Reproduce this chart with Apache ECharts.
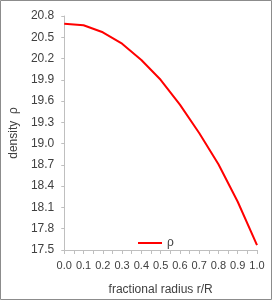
<!DOCTYPE html>
<html><head><meta charset="utf-8">
<script src="https://cdn.jsdelivr.net/npm/echarts@6/dist/echarts.min.js"></script>
<style>html,body{margin:0;padding:0;background:#fff}#c{width:273px;height:301px}</style>
</head><body><div id="c"></div>
<script>
const radius = [0.0,0.1,0.2,0.3,0.4,0.5,0.6,0.7,0.8,0.9,1.0];
const density = [20.69,20.67,20.57,20.41,20.18,19.90,19.55,19.15,18.71,18.18,17.57];
const seriesName = 'ρ';
const font = 'Liberation Sans, Arial, sans-serif';
const txt = '#404040';
const chart = echarts.init(document.getElementById('c'));
chart.setOption({
  animation:false,
  graphic:[{type:'rect',shape:{x:0.5,y:0.5,width:271,height:299},style:{fill:'none',stroke:'#8c8c8c',lineWidth:1}}],
  grid:{left:59,right:16,top:16,bottom:49},
  legend:{left:133,top:232,itemWidth:24,itemHeight:12,itemGap:3,icon:'path://M0,5L24,5L24,7L0,7Z',
    textStyle:{fontFamily:font,fontSize:12,color:txt},data:[seriesName]},
  xAxis:{type:'value',min:0,max:1,interval:0.1,
    name:'fractional radius r/R',nameLocation:'middle',nameGap:34,
    nameTextStyle:{fontFamily:font,fontSize:12,color:txt},
    axisLine:{lineStyle:{color:'#bfbfbf'}},
    axisTick:{show:true,length:4,lineStyle:{color:'#bfbfbf'}},
    minorTick:{show:true,splitNumber:2,length:4,lineStyle:{color:'#bfbfbf'}},
    splitLine:{show:false},
    axisLabel:{fontFamily:font,fontSize:11,color:txt,margin:10,formatter:v=>v.toFixed(1)}},
  yAxis:{type:'value',min:17.5,max:20.8,interval:0.3,
    name:'density  ρ',nameLocation:'middle',nameGap:42,
    nameTextStyle:{fontFamily:font,fontSize:12,color:txt},
    axisLine:{show:true,lineStyle:{color:'#bfbfbf'}},
    axisTick:{show:true,length:3,lineStyle:{color:'#bfbfbf'}},
    splitLine:{show:false},
    axisLabel:{fontFamily:font,fontSize:12,color:txt,margin:10,formatter:v=>v.toFixed(1)}},
  series:[{name:seriesName,type:'line',showSymbol:false,
    data:radius.map((r,i)=>[r,density[i]]),
    lineStyle:{color:'#ff0000',width:2},itemStyle:{color:'#ff0000'}}]
});
</script></body></html>
